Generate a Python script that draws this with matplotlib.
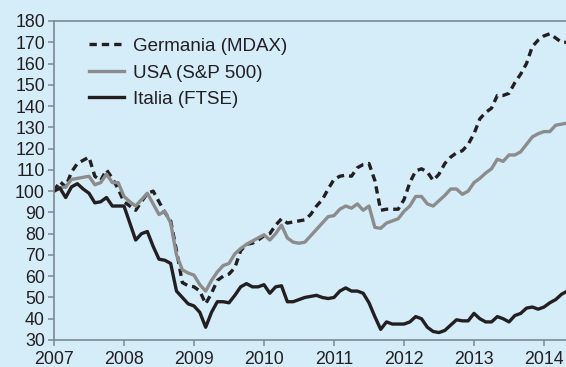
import numpy as np
import matplotlib
matplotlib.use("Agg")
import matplotlib.pyplot as plt

# Monthly index levels, Jan 2007 = 100 (Jan 2007 - May 2014)
germania = [
    100, 104.5, 102, 109, 113, 114.5, 116, 107, 105, 110, 106, 101,
    95, 93, 91, 95, 99, 100, 95, 90, 86, 72, 57, 55.5,
    55, 53, 47, 52, 58, 60, 61, 64, 72, 75, 75.5, 77,
    79, 80, 84, 87, 85, 85.5, 86, 86.5, 89, 93, 96, 101,
    105.5, 107, 107.5, 107, 111, 112.5, 113, 105, 91, 91.5, 91.5, 91.5,
    96, 104, 109.5, 110.5, 109, 105, 108, 113, 116, 118, 119, 122,
    127, 134, 137, 139, 145, 145, 146, 151, 155, 160, 168, 171,
    173, 174, 172, 170, 170,
]
usa = [
    100, 101.5, 102, 105.5, 106, 106.5, 107, 103, 104, 108, 104, 104,
    97.5, 95, 93, 96, 99, 94, 89, 90.5, 85, 70, 63, 61.5,
    60.5, 56, 53, 58, 62, 65, 66, 70.5, 73, 75, 76.5, 78,
    79.5, 77, 80, 84, 78, 76, 75.5, 76, 79, 82, 85, 88,
    88.5, 91.5, 93, 92, 94, 91, 93, 83, 82.5, 85, 86, 87,
    90.5, 93, 97.5, 97.5, 94, 93, 95.5, 98, 101, 101, 98.5, 100,
    104, 106, 108.5, 110.5, 115, 114, 117, 117, 118.5, 122, 125.5, 127,
    128, 128, 131, 131.5, 132,
]
italia = [
    100, 101.5, 97, 102, 103.5, 101, 99, 94.5, 95, 97, 93, 93,
    93, 85, 77, 80, 81, 74, 68, 67.5, 66, 53, 50, 47,
    46, 43, 36, 43, 48, 48, 47.5, 51, 55, 56.5, 55, 55,
    56, 52, 55, 55.5, 48, 48, 49, 50, 50.5, 51, 50, 49.5,
    50, 53, 54.5, 53, 53, 52, 47.5, 41, 35, 38.5, 37.5, 37.5,
    37.5, 38.5, 41, 40, 36, 34, 33.5, 34.5, 37, 39.5, 39, 39,
    42.5, 40, 38.5, 38.5, 41, 40, 38.5, 41.5, 42.5, 45, 45.5, 44.5,
    45.5, 47.5, 49, 51.5, 53,
]
labels = ["Germania (MDAX)", "USA (S&P 500)", "Italia (FTSE)"]
years = list(range(2007, 2015))
yticks = list(range(30, 181, 10))

months = 2007 + np.arange(len(germania)) / 12.0

bg = "#d5ecf9"
spine_col = "#7d8a90"
dark = "#231f20"
grey = "#8c8c8c"

plt.rcParams["font.family"] = ["Liberation Sans", "DejaVu Sans"]

fig = plt.figure(figsize=(5.66, 3.67), dpi=100, facecolor=bg)
ax = fig.add_axes([54 / 566, 1 - 340 / 367, 1 - 54 / 566, 319 / 367])
ax.set_facecolor(bg)

ax.plot(months, germania, color=dark, lw=2.4, ls=(0, (2.2, 1.5)), label=labels[0])
ax.plot(months, usa, color=grey, lw=2.4, label=labels[1])
ax.plot(months, italia, color=dark, lw=2.4, label=labels[2])

ax.set_xlim(2007, 2007 + 512 / 70)
ax.set_ylim(30, 180)
ax.set_xticks(years)
ax.set_yticks(yticks)

for side in ["top", "left", "bottom"]:
    ax.spines[side].set_color(spine_col)
    ax.spines[side].set_linewidth(1.2)
ax.spines["right"].set_visible(False)

ax.tick_params(axis="both", direction="out", length=4.5, width=1.1,
               color=spine_col, labelsize=12.8, labelcolor=dark, pad=2)
ax.tick_params(axis="x", pad=3.5)

leg = ax.legend(loc="upper left", bbox_to_anchor=(0.068, 0.947), frameon=False,
                fontsize=13.5, handlelength=1.9, handletextpad=0.45,
                labelspacing=0.5, borderaxespad=0, borderpad=0)
for t in leg.get_texts():
    t.set_color(dark)

fig.savefig("out.png", dpi=100, facecolor=bg)
